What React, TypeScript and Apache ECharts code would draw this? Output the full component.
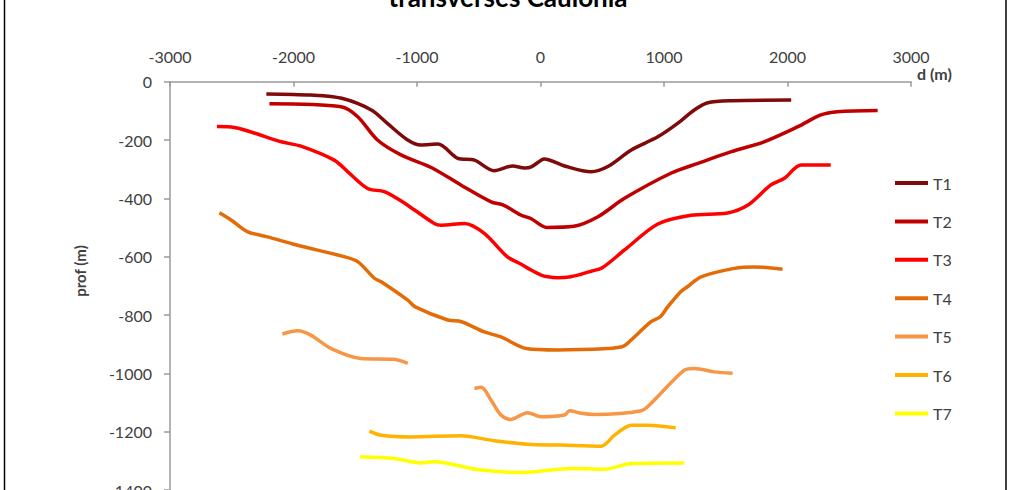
import React, { useEffect, useRef } from "react";
import * as echarts from "echarts";

const SERIES_NAMES = ["T1", "T2", "T3", "T4", "T5", "T6", "T7"];
const COLORS = ["#7F0A0A", "#C00000", "#FF0000", "#E36C09", "#F79646", "#FFB300", "#FFFF00"];

const X_TICKS_MIN = -3000;
const X_TICKS_MAX = 3000;
const Y_MIN = -1400;
const Y_MAX = 0;

const D_T1 = [-2220, -1860, -1610, -1370, -1240, -1075, -970, -830, -670, -535, -375, -225, -130, -75, 5, 30, 195, 410, 545, 735, 950, 1110, 1245, 1355, 1545, 2030];
const P_T1 = [-42, -46, -57, -97, -143, -200, -217, -214, -263, -269, -305, -289, -296, -292, -269, -265, -289, -309, -291, -234, -189, -143, -97, -72, -65, -63];

const D_T2 = [-2195, -1615, -1480, -1320, -1130, -885, -645, -400, -300, -160, -75, 50, 270, 465, 680, 1055, 1275, 1545, 1810, 2085, 2270, 2405, 2730];
const P_T2 = [-76, -86, -120, -200, -251, -294, -354, -412, -423, -457, -470, -500, -496, -463, -400, -314, -280, -240, -206, -154, -114, -103, -99];

const D_T3 = [-2620, -2480, -2100, -1940, -1670, -1560, -1400, -1265, -1140, -1020, -860, -805, -615, -455, -270, -160, -80, 0, 60, 140, 230, 330, 410, 500, 680, 950, 1220, 1515, 1680, 1865, 1975, 2110, 2350];
const P_T3 = [-154, -157, -206, -221, -269, -309, -366, -377, -406, -440, -486, -492, -486, -520, -600, -625, -645, -662, -669, -672, -670, -660, -650, -638, -577, -488, -458, -450, -423, -354, -331, -286, -286];

const D_T4 = [-2600, -2505, -2375, -2210, -1975, -1590, -1480, -1345, -1290, -1075, -1015, -750, -640, -455, -320, -115, 140, 545, 660, 705, 895, 970, 1030, 1135, 1190, 1300, 1570, 1730, 1960];
const P_T4 = [-449, -474, -514, -532, -560, -600, -617, -674, -686, -749, -772, -817, -823, -858, -875, -915, -920, -915, -909, -897, -823, -806, -772, -720, -703, -669, -640, -635, -643];

const D_T5A = [-2090, -1965, -1860, -1695, -1455, -1185, -1075];
const P_T5A = [-865, -854, -869, -915, -949, -952, -966];
const D_T5B = [-535, -480, -400, -320, -240, -105, 5, 195, 235, 330, 435, 815, 895, 1165, 1245, 1405, 1555];
const P_T5B = [-1052, -1048, -1092, -1143, -1158, -1135, -1149, -1143, -1128, -1137, -1141, -1128, -1103, -989, -983, -995, -1000];

const D_T6 = [-1385, -1290, -1050, -645, -375, -105, 165, 490, 600, 735, 870, 1095];
const P_T6 = [-1198, -1212, -1218, -1214, -1231, -1243, -1246, -1250, -1212, -1178, -1178, -1187];

const D_T7 = [-1460, -1185, -970, -860, -510, -160, 245, 515, 735, 1165];
const P_T7 = [-1286, -1292, -1307, -1303, -1330, -1340, -1326, -1329, -1309, -1307];

const zip = (d: number[], p: number[]) => d.map((x, i) => [x, p[i]]);

const FONT = "Lato, 'Open Sans', sans-serif";

export default function App() {
  const ref = useRef<HTMLDivElement>(null);
  useEffect(() => {
    if (!ref.current) return;
    const chart = echarts.init(ref.current, undefined, { renderer: "svg" });
    const t5 = [...zip(D_T5A, P_T5A), [-800, "-"], ...zip(D_T5B, P_T5B)];
    const dataSets = [
      zip(D_T1, P_T1),
      zip(D_T2, P_T2),
      zip(D_T3, P_T3),
      zip(D_T4, P_T4),
      t5,
      zip(D_T6, P_T6),
      zip(D_T7, P_T7),
    ];
    chart.setOption({
      animation: false,
      backgroundColor: "#ffffff",
      grid: { left: 170, right: 100, top: 81.7, bottom: 30, containLabel: false },
      xAxis: {
        type: "value",
        position: "top",
        min: X_TICKS_MIN,
        max: X_TICKS_MAX,
        interval: 1000,
        axisLine: { onZero: false, lineStyle: { color: "#9a9a9a", width: 1.5 } },
        axisTick: { show: true, inside: true, length: 5, lineStyle: { color: "#9a9a9a", width: 1.5 } },
        axisLabel: { margin: 17, fontSize: 16, color: "#404040", fontFamily: FONT, formatter: (v: number) => String(v) },
        splitLine: { show: false },
        name: "d (m)",
        nameLocation: "end",
        nameGap: 6,
        nameTextStyle: { fontSize: 16, fontWeight: "bold", color: "#404040", fontFamily: FONT, verticalAlign: "bottom", align: "left" },
      },
      yAxis: {
        type: "value",
        min: Y_MIN,
        max: Y_MAX,
        interval: 200,
        axisLine: { show: true, onZero: false, lineStyle: { color: "#9a9a9a", width: 1.5 } },
        axisTick: { show: true, inside: false, length: 6, lineStyle: { color: "#9a9a9a", width: 1.5 } },
        axisLabel: { margin: 18, fontSize: 16, color: "#404040", fontFamily: FONT, formatter: (v: number) => String(v) },
        splitLine: { show: false },
      },
      legend: {
        data: SERIES_NAMES,
        orient: "vertical",
        left: 893,
        top: 175,
        padding: 0,
        itemWidth: 33,
        itemHeight: 14,
        itemGap: 22.4,
        itemStyle: { opacity: 0, borderWidth: 0 },
        lineStyle: { width: 4 },
        textStyle: { fontSize: 16, color: "#404040", fontFamily: FONT },
      },
      graphic: [
        {
          type: "rect",
          shape: { x: 4.5, y: -10, width: 1001.5, height: 540 },
          style: { fill: "none", stroke: "#000000", lineWidth: 1.5 },
          silent: true,
        },
        {
          type: "text",
          x: 508,
          y: 10,
          style: { text: "transverses Caulonia", font: `bold 26px ${FONT}`, fill: "#000000", align: "center", verticalAlign: "bottom" },
        },
        {
          type: "text",
          x: 80,
          y: 271,
          rotation: Math.PI / 2,
          style: { text: "prof (m)", font: `bold 15px ${FONT}`, fill: "#404040", align: "center", verticalAlign: "middle" },
        },
      ],
      series: dataSets.map((data, i) => ({
        name: SERIES_NAMES[i],
        type: "line",
        data,
        symbol: "none",
        smooth: 0.3,
        connectNulls: false,
        color: COLORS[i],
        lineStyle: { color: COLORS[i], width: 3.5 },
      })),
    });
    return () => chart.dispose();
  }, []);
  return <div ref={ref} style={{ position: "fixed", left: 0, top: 0, width: 1011, height: 520 }} />;
}
